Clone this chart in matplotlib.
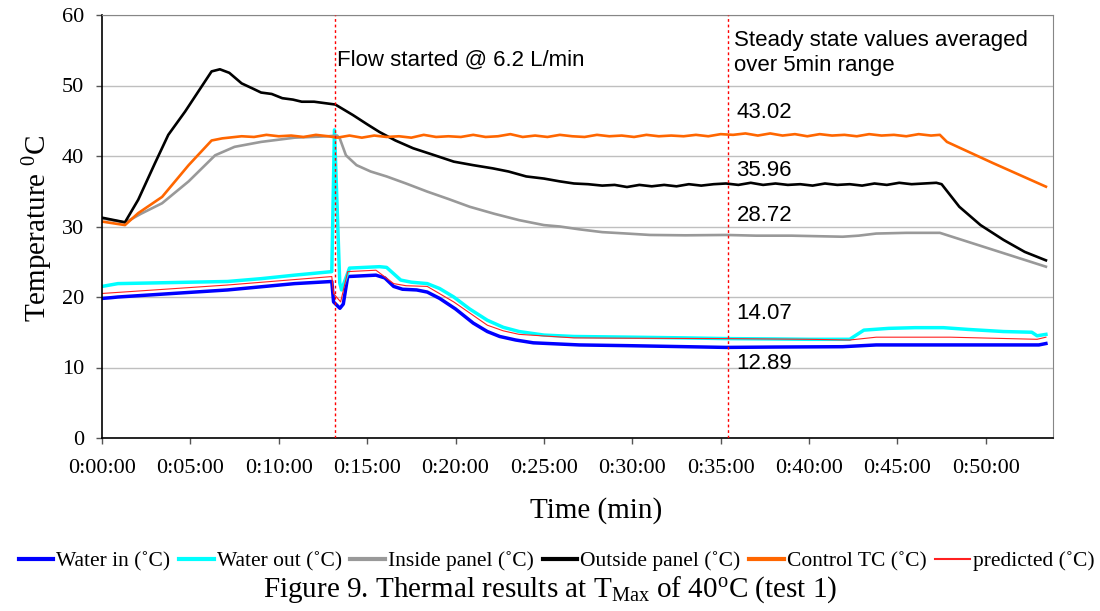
import numpy as np
import matplotlib
matplotlib.use("Agg")
import matplotlib.pyplot as plt
from matplotlib.ticker import MultipleLocator, FuncFormatter
from matplotlib.lines import Line2D

plt.rcParams['mathtext.default'] = 'regular'

# time in minutes, temperature in degC
t_water_in = [0, 0.5, 0.9, 7.1, 10.9, 13.0, 13.1, 13.46, 13.65, 13.9, 15.5, 16.0, 16.5, 17.0,
              17.8, 18.4, 19.1, 20.0, 21.0, 21.8, 22.5, 23.4, 24.4, 27.0, 29.7, 35.3, 38.0,
              41.9, 43.8, 48.0, 53.0, 53.4]
water_in = [19.8, 19.9, 20.0, 21.0, 21.9, 22.2, 19.3, 18.4, 19.0, 22.9, 23.1, 22.7, 21.5, 21.1,
            21.0, 20.7, 19.8, 18.3, 16.3, 15.1, 14.4, 13.9, 13.5, 13.2, 13.1, 12.85, 12.9,
            12.95, 13.2, 13.2, 13.2, 13.4]

t_water_out = [0, 0.9, 3.0, 5.0, 7.1, 9.0, 10.9, 13.0, 13.15, 13.45, 13.55, 14.0, 15.7, 16.1,
               16.9, 17.5, 18.4, 19.1, 19.9, 20.8, 21.8, 22.7, 23.6, 25.0, 26.7, 30.0, 33.0,
               35.3, 38.0, 40.0, 42.3, 43.1, 44.5, 46.0, 47.6, 49.0, 51.0, 52.6, 52.9, 53.4]
water_out = [21.5, 21.9, 22.0, 22.1, 22.2, 22.6, 23.1, 23.6, 43.7, 22.0, 21.0, 24.1, 24.3, 24.2,
             22.4, 22.1, 21.9, 21.2, 20.0, 18.3, 16.7, 15.7, 15.1, 14.6, 14.4, 14.3, 14.2,
             14.1, 14.05, 14.0, 14.0, 15.3, 15.55, 15.65, 15.65, 15.4, 15.1, 15.0, 14.5, 14.7]

t_inside = [0, 1.3, 2.2, 3.4, 4.9, 6.4, 7.5, 9.0, 10.9, 12.8, 13.3, 13.45, 13.8, 14.4, 15.2,
            16.1, 17.2, 18.4, 19.6, 20.8, 22.2, 23.6, 25.0, 25.9, 27.0, 28.3, 29.7, 31.0,
            33.0, 35.3, 37.0, 39.0, 41.9, 42.8, 43.8, 45.5, 47.4, 50.4, 53.4]
inside = [31.15, 30.55, 31.8, 33.3, 36.4, 40.1, 41.3, 42.0, 42.6, 42.8, 42.9, 42.5, 40.1, 38.7,
          37.8, 37.1, 36.1, 34.95, 33.9, 32.8, 31.8, 30.9, 30.2, 30.0, 29.6, 29.2, 29.0, 28.8,
          28.75, 28.8, 28.7, 28.7, 28.55, 28.7, 29.0, 29.1, 29.1, 26.7, 24.3]

t_outside = [0, 1.3, 2.05, 3.0, 3.75, 4.7, 6.2, 6.67, 7.2, 7.9, 8.5, 9.0, 9.6, 10.2, 10.8,
             11.3, 12.0, 12.6, 13.2, 14.2, 15.0, 15.7, 16.6, 17.6, 18.7, 19.9, 21.0, 22.1,
             23.0, 24.0, 25.0, 25.9, 26.7, 27.5, 28.3, 29.0, 29.7, 30.4, 31.1, 31.8, 32.5,
             33.2, 33.9, 34.6, 35.3, 36.0, 36.7, 37.4, 38.1, 38.8, 39.5, 40.2, 40.9, 41.6,
             42.3, 43.0, 43.7, 44.4, 45.1, 45.8, 46.5, 47.2, 47.5, 48.5, 49.7, 51.0, 52.2, 53.4]
outside = [31.25, 30.6, 33.8, 39.0, 43.0, 46.3, 52.0, 52.3, 51.8, 50.3, 49.6, 49.0, 48.8, 48.2, 48.0,
           47.7, 47.7, 47.5, 47.3, 45.8, 44.5, 43.4, 42.2, 41.1, 40.2, 39.2, 38.7, 38.25,
           37.8, 37.1, 36.8, 36.4, 36.1, 36.0, 35.8, 35.9, 35.6, 35.9, 35.7, 35.9, 35.7,
           36.0, 35.8, 36.0, 36.1, 35.9, 36.2, 35.9, 36.1, 35.9, 36.0, 35.8, 36.1, 35.9,
           36.0, 35.8, 36.1, 35.9, 36.2, 36.0, 36.1, 36.2, 36.0, 32.8, 30.2, 28.1, 26.4, 25.2]

t_control = [0, 1.3, 2.05, 3.4, 4.9, 6.2, 6.8, 7.9, 8.6, 9.3, 10.0, 10.7, 11.4, 12.1, 12.8,
             13.3, 14.0, 14.7, 15.4, 16.1, 16.8, 17.5, 18.2, 18.9, 19.6, 20.3, 21.0, 21.7,
             22.4, 23.1, 23.8, 24.5, 25.2, 25.9, 26.6, 27.3, 28.0, 28.7, 29.4, 30.1, 30.8,
             31.5, 32.2, 32.9, 33.6, 34.3, 35.0, 35.7, 36.4, 37.1, 37.8, 38.5, 39.2, 39.9,
             40.6, 41.3, 42.0, 42.7, 43.4, 44.1, 44.8, 45.5, 46.2, 46.9, 47.4, 47.8, 50.4, 53.4]
control = [30.7, 30.2, 31.9, 34.2, 38.7, 42.2, 42.5, 42.8, 42.7, 43.0, 42.8, 42.9, 42.7, 43.0, 42.8,
           42.6, 42.9, 42.6, 42.9, 42.7, 42.8, 42.6, 43.0, 42.7, 42.8, 42.7, 43.0, 42.7,
           42.8, 43.1, 42.7, 42.9, 42.7, 43.0, 42.8, 42.7, 43.0, 42.8, 42.9, 42.7, 43.0,
           42.8, 42.9, 42.8, 43.0, 42.8, 43.1, 43.0, 43.2, 42.9, 43.2, 42.9, 43.1, 42.8,
           43.1, 42.9, 43.0, 42.8, 43.1, 42.9, 43.0, 42.8, 43.1, 42.9, 43.0, 42.0, 39.0, 35.65]

t_predicted = [0, 7.1, 13.0, 13.1, 13.5, 13.9, 15.5, 16.5, 17.2, 18.4, 19.9, 21.8, 22.7, 23.6,
               26.7, 30.0, 35.3, 40.0, 42.3, 43.8, 48.0, 52.9, 53.4]
predicted = [20.5, 21.7, 22.9, 20.5, 19.3, 23.6, 23.8, 21.9, 21.6, 21.5, 19.3, 16.0, 15.2, 14.7,
             14.2, 14.15, 14.1, 14.0, 13.9, 14.3, 14.3, 14.0, 14.3]

flow_start = 13.2
steady_start = 35.4
steady_labels = ['43.02', '35.96', '28.72', '14.07', '12.89']
steady_label_y = [46.1, 37.9, 31.6, 17.7, 10.5]

series = [
    (t_water_in, water_in, 'Water in (˚C)', '#0000FF', 2.5),
    (t_water_out, water_out, 'Water out (˚C)', '#00FFFF', 2.5),
    (t_inside, inside, 'Inside panel (˚C)', '#999999', 1.9),
    (t_outside, outside, 'Outside panel (˚C)', '#000000', 1.9),
    (t_control, control, 'Control TC (˚C)', '#FF6600', 1.9),
    (t_predicted, predicted, 'predicted (˚C)', '#FF2020', 0.8),
]

serif = ['Liberation Serif', 'DejaVu Serif']
sans = ['Liberation Sans', 'DejaVu Sans']

fig = plt.figure(figsize=(11, 6.11), dpi=100)
ax = fig.add_axes([102 / 1100, 1 - 438 / 611, (1053 - 102) / 1100, (438 - 15) / 611])

for t, v, lab, col, lw in series:
    ax.plot(t, v, color=col, lw=lw, label=lab, solid_joinstyle='round')

for xv in (flow_start, steady_start):
    ax.axvline(xv, color='red', lw=1, linestyle=(0, (2, 2)), zorder=5)

ax.set_xlim(0, 53.8)
ax.set_ylim(0, 60)
ax.yaxis.set_major_locator(MultipleLocator(10))
ax.xaxis.set_major_locator(MultipleLocator(5))
ax.xaxis.set_major_formatter(FuncFormatter(lambda m, p: f"0:{int(round(m)):02d}:00"))
ax.grid(axis='y', color='#BFBFBF', lw=1)
ax.set_axisbelow(True)

for s in ('top', 'right'):
    ax.spines[s].set_color('#868686')
for s in ('left', 'bottom'):
    ax.spines[s].set_color('black')
    ax.spines[s].set_linewidth(1.2)
ax.tick_params(direction='out', length=4, width=1, color='#555555', pad=9)
ax.tick_params(axis='x', pad=11)
for lbl in ax.get_xticklabels() + ax.get_yticklabels():
    lbl.set_family(serif)
    lbl.set_fontsize(16)

ax.text(flow_start + 0.1, 53.6, 'Flow started @ 6.2 L/min', family=sans, fontsize=16,
        ha='left', va='center')
ax.text(steady_start + 0.35, 54.6, 'Steady state values averaged\nover 5min range', family=sans,
        fontsize=16, ha='left', va='center', linespacing=1.3)
for lab, yv in zip(steady_labels, steady_label_y):
    ax.text(steady_start + 0.5, yv, lab, family=sans, fontsize=16, ha='left', va='center')

fig.text(38 / 1100, 1 - 228 / 611, 'Temperature $^{0}$C', family=serif, fontsize=21,
         rotation=90, ha='center', va='center')
fig.text(596 / 1100, 1 - 511 / 611, 'Time (min)', family=serif, fontsize=21,
         ha='center', va='center')

handles = [Line2D([0], [0], color=c, lw=(3 if lw > 1 else 1.5)) for _, _, _, c, lw in series]
labels = [s[2] for s in series]
leg = fig.legend(handles, labels, loc='center', bbox_to_anchor=(0.506, 1 - 561 / 611), ncol=6,
                 frameon=False, handlelength=1.6, handletextpad=0.15, columnspacing=0.4,
                 prop={'family': serif, 'size': 15.5}, borderaxespad=0)

fig.text(0.5, 1 - 590 / 611, 'Figure 9. Thermal results at T$_{Max}$ of 40$^{o}$C (test 1)',
         family=serif, fontsize=21, ha='center', va='center')

fig.savefig('out.png', dpi=100)
